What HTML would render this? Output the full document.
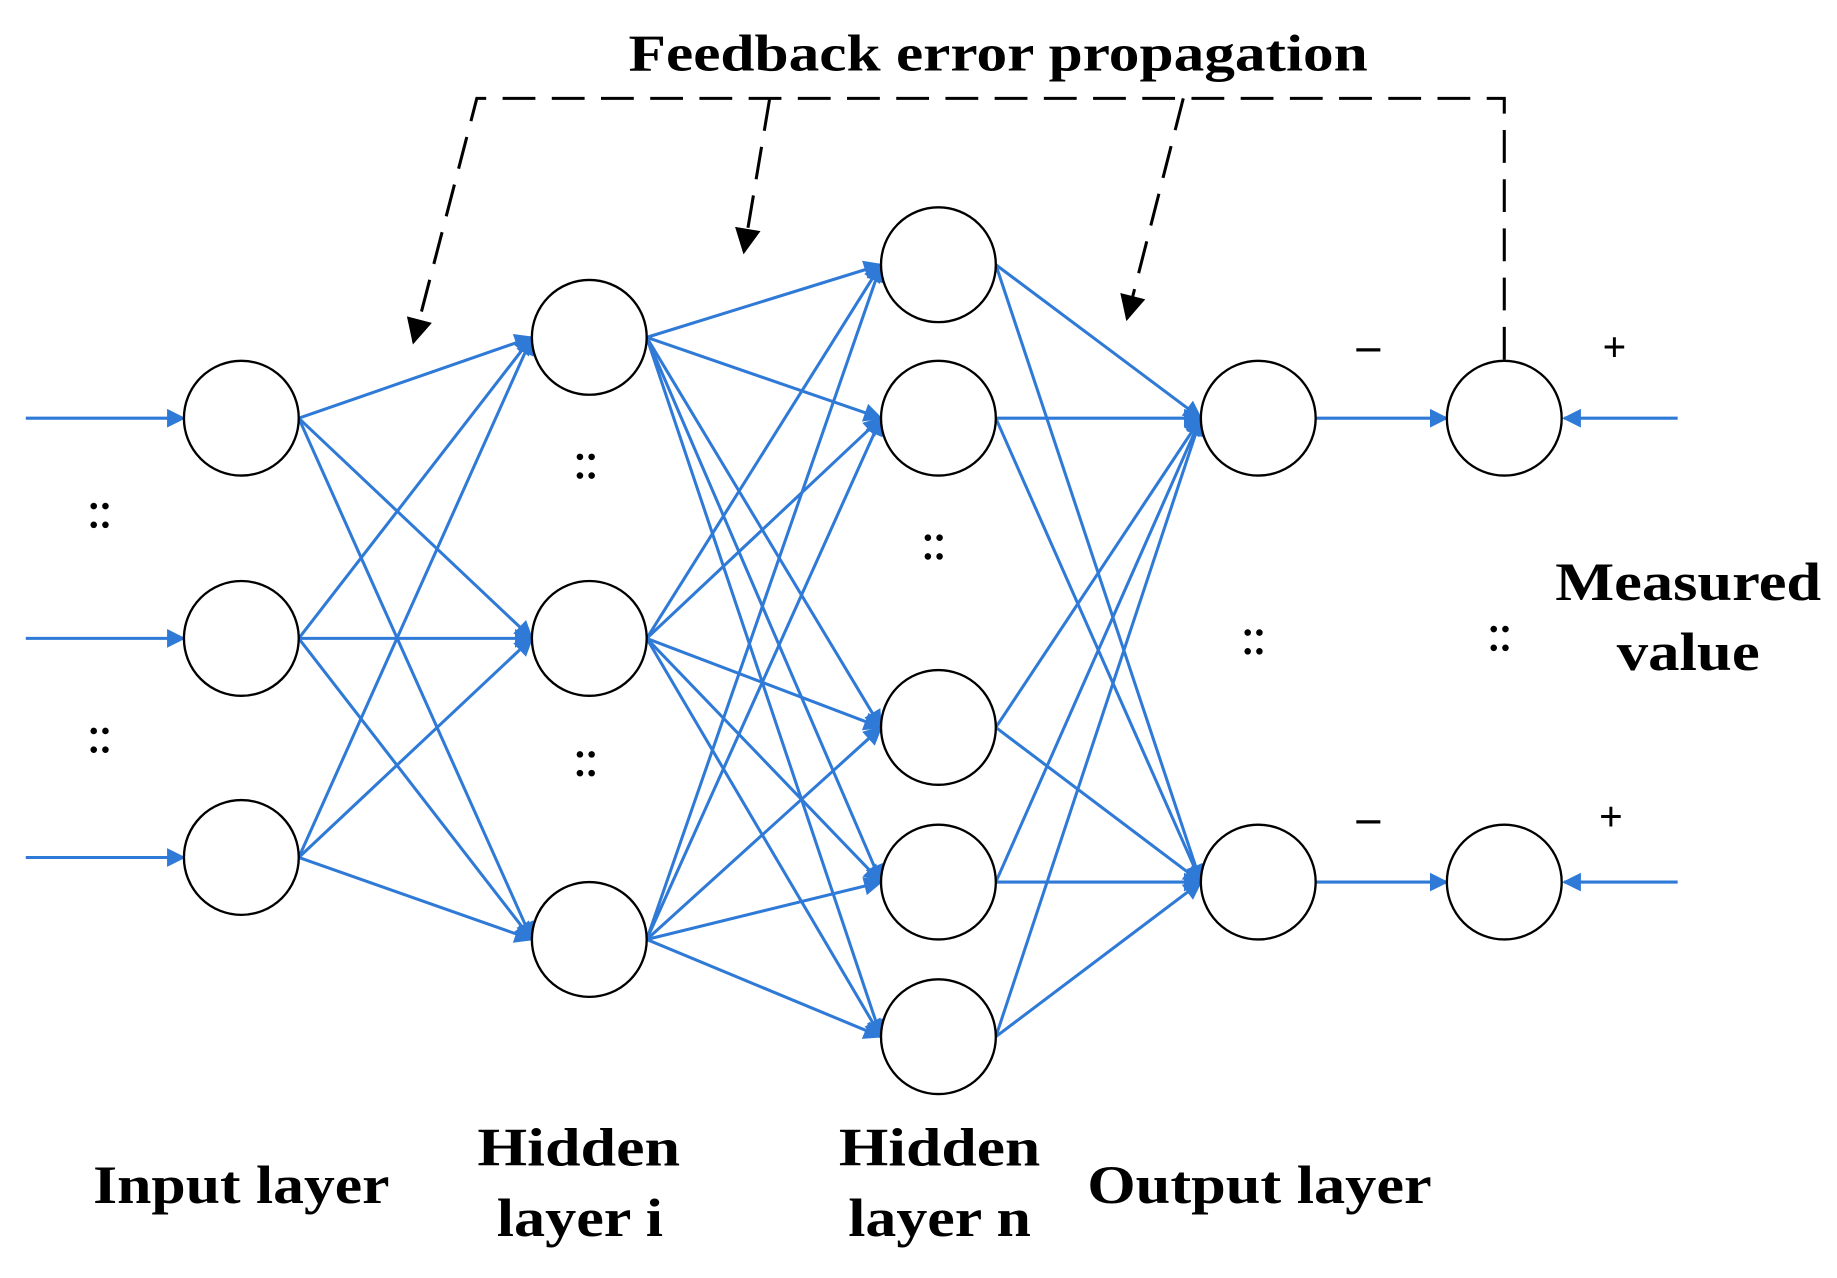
<!DOCTYPE html>
<html><head><meta charset="utf-8"><style>
html,body{margin:0;padding:0;background:#fff;}
svg{display:block;}
text{font-family:"Liberation Serif",serif;font-weight:bold;fill:#000;}
</style></head><body>
<svg width="1837" height="1278" viewBox="0 0 1568 1091" preserveAspectRatio="none" xmlns="http://www.w3.org/2000/svg">
<defs>
<marker id="bb" viewBox="0 0 10 10" refX="9" refY="5" markerWidth="22" markerHeight="16" orient="auto" markerUnits="userSpaceOnUse"><path d="M0,0 L10,5 L0,10 z" fill="#2f7ad6"/></marker>
<marker id="k" viewBox="0 0 10 10" refX="9" refY="5" markerWidth="30" markerHeight="22" orient="auto" markerUnits="userSpaceOnUse"><path d="M0,0 L10,5 L0,10 z" fill="#000"/></marker>
</defs>
<g stroke="#2f7ad6" stroke-width="2.6" fill="none" id="lines"></g>
<g stroke="#000" stroke-width="2.6" fill="none" stroke-dasharray="28,14">
<polyline points="1284,307 1284,84 407,84 353,292" marker-end="url(#k)"/>
<line x1="657" y1="84" x2="635" y2="215" marker-end="url(#k)"/>
<line x1="1010" y1="84" x2="962" y2="272" marker-end="url(#k)"/>
</g>
<g id="nodes" fill="#fff" stroke="#000" stroke-width="2"></g>
<g id="dots" fill="#000"></g>
<text x="852" y="60" font-size="44" text-anchor="middle" textLength="631" lengthAdjust="spacingAndGlyphs">Feedback error propagation</text>
<text x="206" y="1027" font-size="46" text-anchor="middle" textLength="253" lengthAdjust="spacingAndGlyphs">Input layer</text>
<text x="494" y="995" font-size="46" text-anchor="middle" textLength="173" lengthAdjust="spacingAndGlyphs">Hidden</text>
<text x="495" y="1055" font-size="46" text-anchor="middle" textLength="142" lengthAdjust="spacingAndGlyphs">layer i</text>
<text x="802" y="995" font-size="46" text-anchor="middle" textLength="172" lengthAdjust="spacingAndGlyphs">Hidden</text>
<text x="802" y="1055" font-size="46" text-anchor="middle" textLength="156" lengthAdjust="spacingAndGlyphs">layer n</text>
<text x="1075" y="1027" font-size="46" text-anchor="middle" textLength="294" lengthAdjust="spacingAndGlyphs">Output layer</text>
<text x="1441" y="512" font-size="46" text-anchor="middle" textLength="227" lengthAdjust="spacingAndGlyphs">Measured</text>
<text x="1441" y="572" font-size="46" text-anchor="middle" textLength="122" lengthAdjust="spacingAndGlyphs">value</text>
<text x="1168" y="308" font-size="40" text-anchor="middle">–</text>
<text x="1378" y="308" font-size="36" text-anchor="middle">+</text>
<text x="1168" y="711" font-size="40" text-anchor="middle">–</text>
<text x="1375" y="709" font-size="36" text-anchor="middle">+</text>
</svg>
<script>
var NS="http://www.w3.org/2000/svg";
var R=49;
var L0=[[206,357],[206,545],[206,732]],L1=[[503,288],[503,545],[503,802]],
L2=[[801,226],[801,357],[801,621],[801,753],[801,885]],L3=[[1074,357],[1074,753]],C=[[1284,357],[1284,753]];
var g=document.getElementById('lines');
function ln(x1,y1,x2,y2,m){var l=document.createElementNS(NS,'line');l.setAttribute('x1',x1);l.setAttribute('y1',y1);l.setAttribute('x2',x2);l.setAttribute('y2',y2);l.setAttribute('marker-end','url(#'+m+')');g.appendChild(l);}
function conn(A,B,m){A.forEach(function(a){B.forEach(function(b){ln(a[0]+R,a[1],b[0]-R,b[1],m);});});}
conn(L0,L1,'bb');conn(L1,L2,'bb');conn(L2,L3,'bb');
L0.forEach(function(a){ln(22,a[1],a[0]-R,a[1],'bb');});
ln(1123,357,1235,357,'bb');ln(1123,753,1235,753,'bb');
ln(1432,357,1335,357,'bb');ln(1432,753,1335,753,'bb');
var n=document.getElementById('nodes');
L0.concat(L1,L2,L3,C).forEach(function(p){var c=document.createElementNS(NS,'circle');c.setAttribute('cx',p[0]);c.setAttribute('cy',p[1]);c.setAttribute('r',R);n.appendChild(c);});
var d=document.getElementById('dots');
[[85,440],[85,632],[500,398],[500,652],[797,467],[1070,548],[1280,545]].forEach(function(p){
[[-5,-8],[5,-8],[-5,8],[5,8]].forEach(function(o){var c=document.createElementNS(NS,'circle');c.setAttribute('cx',p[0]+o[0]);c.setAttribute('cy',p[1]+o[1]);c.setAttribute('r',2.8);d.appendChild(c);});});
</script>
</body></html>
